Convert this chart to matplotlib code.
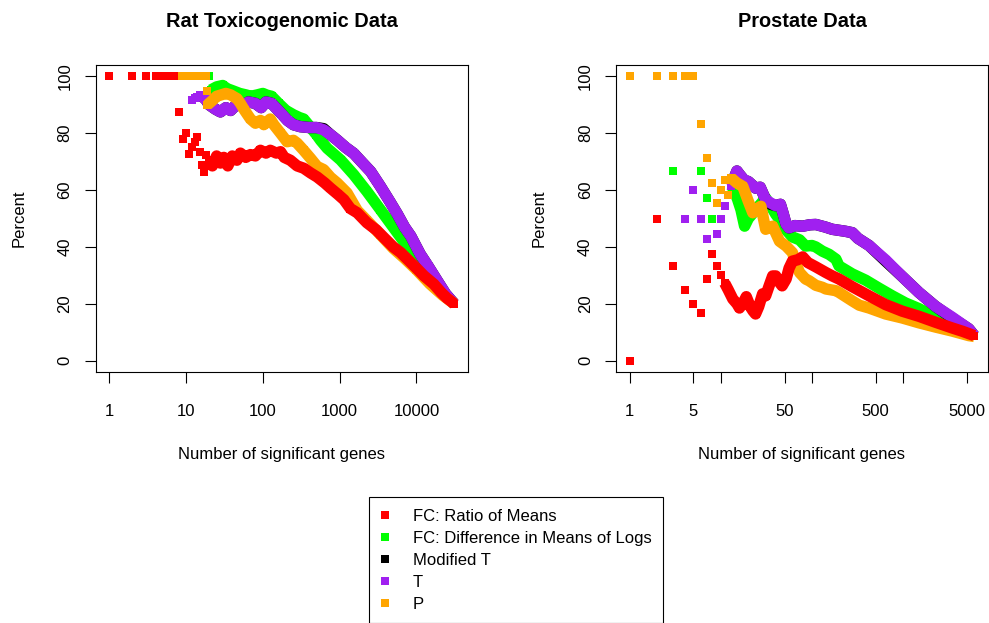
import matplotlib

matplotlib.use("Agg")

import matplotlib.pyplot as plt
import numpy as np
from matplotlib.lines import Line2D
from matplotlib.ticker import NullLocator

plt.rcParams["font.family"] = ["Liberation Sans", "DejaVu Sans"]

# ---------------- Rat toxicogenomic data (31099 probe sets) ----------------
rat_n_max = 31099

# FC: ratio of means
rat_rom_pts_n = [1, 2, 3, 4, 5, 6, 7, 8, 9, 10, 11, 12, 13, 14, 15, 16, 17, 18, 19]
rat_rom_pts_pct = [100, 100, 100, 100, 100, 100, 100, 87.5, 77.8, 80.0, 72.7, 75.0,
                   76.9, 78.6, 73.3, 68.8, 66.5, 72.2, 68.4]
rat_rom_band_n = [20, 22, 25, 28, 31, 35, 40, 46, 51, 60, 69, 80, 93, 110, 125, 150,
                  170, 190, 228, 280, 340, 420, 510, 640, 760, 950, 1140, 1380, 1700,
                  2270, 3000, 3800, 5000, 6250, 8460, 10300, 12600, 16900, 21000,
                  25000, 31099]
rat_rom_band_pct = [70.5, 68.5, 72.0, 69.5, 71.5, 68.5, 72.0, 70.5, 73.0, 71.5, 72.5,
                    72.0, 74.0, 73.0, 74.0, 73.0, 73.5, 71.5, 70.5, 68.5, 67.7, 66.0,
                    64.6, 62.5, 60.7, 58.5, 56.6, 53.5, 52.0, 48.5, 46.0, 43.2, 40.0,
                    38.0, 34.5, 32.2, 29.8, 26.9, 24.0, 22.0, 20.0]

# FC: difference in means of logs
rat_dml_pts_n = list(range(1, 21))
rat_dml_pts_pct = [100] * 20
rat_dml_band_n = [21, 25, 30, 34, 40, 50, 60, 70, 85, 100, 113, 130, 160, 200, 250,
                  300, 340, 420, 500, 565, 690, 1030, 1530, 2270, 3400, 5070, 7570,
                  10700, 12600, 18800, 31099]
rat_dml_band_pct = [95.2, 96.3, 96.8, 95.7, 95.0, 94.0, 93.5, 93.0, 93.5, 94.0, 93.4,
                    93.0, 90.5, 88.0, 86.5, 85.5, 85.0, 82.0, 79.5, 77.5, 74.7, 70.6,
                    65.4, 59.5, 53.1, 46.7, 40.3, 34.5, 31.0, 25.5, 20.0]

# Modified T
rat_mt_pts_n = list(range(1, 16))
rat_mt_pts_pct = [100] * 11 + [91.7, 92.3, 92.9, 93.3]
rat_mt_band_n = [16, 18, 20, 24, 28, 33, 38, 45, 55, 65, 80, 95, 110, 130, 153, 180,
                 210, 250, 308, 400, 500, 620, 760, 930, 1200, 1530, 2000, 2540, 3400,
                 4500, 5670, 7000, 8460, 11200, 14000, 18800, 24000, 31099]
rat_mt_band_pct = [93.0, 92.0, 90.0, 88.5, 87.5, 89.0, 88.0, 90.0, 89.5, 91.0, 90.5,
                   89.0, 91.0, 90.5, 88.5, 86.5, 84.5, 83.0, 82.3, 82.0, 82.0, 81.6,
                   79.5, 77.6, 75.0, 72.9, 69.5, 66.5, 61.3, 56.0, 51.5, 47.0, 43.8,
                   37.5, 33.5, 28.0, 23.5, 20.0]

# T
rat_t_pts_n = list(range(1, 16))
rat_t_pts_pct = [100] * 11 + [91.7, 92.3, 92.9, 93.3]
rat_t_band_n = [16, 18, 20, 24, 28, 33, 38, 45, 55, 65, 80, 95, 110, 130, 153, 180,
                210, 250, 308, 400, 500, 620, 760, 930, 1200, 1530, 2000, 2540, 3400,
                4500, 5670, 7000, 8460, 11200, 14000, 18800, 24000, 31099]
rat_t_band_pct = [93.0, 92.0, 90.0, 88.5, 87.5, 89.0, 88.0, 90.0, 89.5, 91.0, 90.5,
                  89.0, 91.0, 90.5, 88.5, 86.5, 84.5, 83.0, 82.3, 82.0, 82.0, 81.2,
                  79.5, 77.6, 75.0, 72.9, 69.5, 66.5, 61.3, 56.0, 51.5, 47.0, 43.8,
                  37.5, 33.5, 28.0, 23.5, 20.0]

# P
rat_p_pts_n = list(range(1, 20))
rat_p_pts_pct = [100] * 18 + [94.7]
rat_p_band_n = [19, 22, 25, 28, 33, 38, 42, 46, 51, 58, 69, 80, 93, 103, 125, 139, 170,
                207, 250, 280, 340, 417, 510, 620, 760, 930, 1250, 1700, 2270, 3400,
                5000, 7000, 10000, 15000, 22000, 31099]
rat_p_band_pct = [90.0, 91.5, 93.0, 93.4, 94.0, 93.5, 92.8, 92.2, 90.5, 88.0, 85.0,
                  83.5, 84.5, 83.0, 85.0, 83.0, 80.0, 77.0, 77.5, 76.5, 74.0, 71.2,
                  68.3, 67.2, 64.5, 62.5, 59.0, 52.8, 49.3, 44.3, 39.5, 36.0, 32.0,
                  27.0, 23.0, 20.0]

# ---------------- Prostate data (6033 genes) ----------------
pro_n_max = 6033

pro_rom_pts_n = [1, 2, 3, 4, 5, 6, 7, 8, 9, 10]
pro_rom_pts_pct = [0.0, 50.0, 33.3, 25.0, 20.0, 16.7, 28.6, 37.5, 33.3, 30.0]
pro_rom_band_n = [11, 12, 13.5, 15, 16, 18, 19, 21, 22.5, 24, 26, 28.7, 31, 34, 37, 40,
                  44, 47, 52, 56, 61, 70, 79, 90, 110, 142, 167, 198, 277, 423, 643,
                  977, 1490, 2267, 3445, 4500, 6033]
pro_rom_band_pct = [27.3, 25.0, 21.7, 20.0, 18.5, 21.0, 22.5, 19.0, 17.5, 16.4, 19.0,
                    23.5, 22.8, 26.5, 29.8, 29.8, 27.5, 26.3, 28.7, 32.5, 35.0, 35.5,
                    36.5, 34.5, 33.0, 31.0, 29.8, 28.7, 26.0, 22.8, 19.7, 17.4, 15.6,
                    13.5, 11.5, 10.3, 8.8]

pro_dml_pts_n = [1, 2, 3, 4, 5, 6, 7, 8, 9, 10, 11, 12]
pro_dml_pts_pct = [100, 100, 66.7, 50.0, 60.0, 66.7, 57.1, 50.0, 55.6, 60.0, 63.6, 58.3]
pro_dml_band_n = [13, 14, 15.3, 16.6, 18.2, 20, 24, 28, 31, 36, 40, 44, 52, 61, 73, 85,
                  100, 110, 130, 154, 183, 198, 277, 388, 543, 760, 1060, 1490, 2000,
                  3000, 4500, 6033]
pro_dml_band_pct = [61.5, 60.0, 56.6, 53.1, 47.3, 50.0, 53.0, 55.5, 57.2, 54.0, 51.5,
                    49.7, 46.0, 43.5, 42.5, 40.3, 40.5, 40.0, 38.5, 37.4, 35.7, 33.3,
                    30.5, 28.3, 25.5, 22.8, 20.3, 18.3, 16.2, 13.0, 10.5, 8.8]

pro_mt_pts_n = [1, 2, 3, 4, 5, 6, 7, 8, 9, 10, 11]
pro_mt_pts_pct = [100, 50.0, 33.3, 50.0, 60.0, 50.0, 42.9, 37.5, 44.4, 50.0, 54.5]
pro_mt_band_n = [13, 14, 15, 16, 18, 20, 24, 27, 31, 35, 40, 45, 48, 52, 56, 65, 79, 95,
                 110, 140, 167, 233, 277, 320, 423, 643, 977, 1490, 2267, 3445, 5250,
                 6033]
pro_mt_band_pct = [61.5, 64.3, 66.7, 65.5, 63.5, 63.0, 60.7, 61.0, 56.6, 55.0, 54.5,
                   55.0, 52.0, 48.0, 46.7, 47.5, 47.3, 47.8, 47.9, 47.0, 46.2, 45.5,
                   45.0, 43.0, 40.5, 35.0, 29.6, 24.0, 19.1, 15.0, 11.2, 8.8]

pro_t_pts_n = [1, 2, 3, 4, 5, 6, 7, 8, 9, 10, 11]
pro_t_pts_pct = [100, 50.0, 33.3, 50.0, 60.0, 50.0, 42.9, 37.5, 44.4, 50.0, 54.5]
pro_t_band_n = [13, 14, 15, 16, 18, 20, 24, 27, 31, 35, 40, 45, 48, 52, 56, 65, 79, 95,
                110, 140, 167, 233, 277, 320, 423, 643, 977, 1490, 2267, 3445, 5250,
                6033]
pro_t_band_pct = [61.5, 64.3, 66.7, 65.5, 63.5, 63.0, 60.7, 61.0, 56.6, 55.5, 54.5,
                  55.0, 52.0, 48.0, 46.7, 47.5, 47.3, 47.8, 47.9, 47.0, 46.2, 45.5,
                  45.0, 43.0, 40.5, 35.4, 29.6, 24.0, 19.1, 15.3, 11.2, 8.8]

pro_p_pts_n = [1, 2, 3, 4, 5, 6, 7, 8, 9, 10, 11, 12]
pro_p_pts_pct = [100, 100, 100, 100, 100, 83.3, 71.4, 62.5, 55.6, 60.0, 63.6, 58.3]
pro_p_band_n = [13, 15, 17.4, 19.7, 22.4, 25, 27.5, 31, 37, 44, 52, 61, 67, 73, 85, 93,
                110, 130, 142, 183, 198, 277, 330, 423, 643, 977, 1490, 2267, 3445,
                5250, 6033]
pro_p_band_pct = [64.2, 62.5, 61.3, 56.6, 52.0, 53.5, 54.3, 46.2, 47.3, 42.0, 40.3,
                  38.0, 34.0, 31.0, 28.7, 28.1, 26.5, 25.8, 25.2, 24.6, 24.0, 21.0,
                  19.5, 18.5, 16.4, 15.0, 13.3, 11.8, 10.4, 8.8, 8.5]

# ---------------- labels / ticks ----------------
method_labels = ["FC: Ratio of Means", "FC: Difference in Means of Logs",
                 "Modified T", "T", "P"]
method_colors = ["#FF0000", "#00FF00", "#000000", "#A020F0", "#FFA500"]

rat_xticks = [1, 10, 100, 1000, 10000]
rat_xticklabels = ["1", "10", "100", "1000", "10000"]
pro_xticks = [1, 5, 10, 50, 100, 500, 1000, 5000]
pro_xticklabels = ["1", "5", "", "50", "", "500", "", "5000"]
pct_ticks = [0, 20, 40, 60, 80, 100]
pct_ticklabels = ["0", "20", "40", "60", "80", "100"]

MS = 5.8   # square marker, points
LW = 8.2   # width of the dense run of squares


def draw_series(ax, pts_n, pts_pct, band_n, band_pct, color):
    ax.plot(pts_n, pts_pct, ls="none", marker="s", ms=MS, mew=0, color=color)
    ax.plot(band_n, band_pct, ls="-", lw=LW, marker="s", ms=MS, mew=0, color=color,
            solid_joinstyle="round", solid_capstyle="butt")


def setup_axes(ax, title, n_max, xticks, xticklabels):
    ax.set_xscale("log")
    span = 0.04 * np.log10(n_max)
    ax.set_xlim(10 ** -span, n_max * 10 ** span)
    ax.set_ylim(-4, 104)
    ax.set_xticks(xticks)
    ax.set_xticklabels(xticklabels)
    ax.xaxis.set_minor_locator(NullLocator())
    ax.set_yticks(pct_ticks)
    ax.set_yticklabels(pct_ticklabels, rotation=90, va="center")
    ax.tick_params(axis="both", direction="out", length=8, width=0.8, labelsize=12,
                   color="black")
    ax.tick_params(axis="x", pad=15)
    ax.tick_params(axis="y", pad=8.5)
    for spine in ax.spines.values():
        spine.set_linewidth(0.8)
        spine.set_color("black")
    ax.set_title(title, fontsize=14.4, fontweight="bold", pad=27.5)
    ax.set_xlabel("Number of significant genes", fontsize=12, labelpad=20)
    ax.set_ylabel("Percent", fontsize=12, labelpad=22.5)


fig = plt.figure(figsize=(9.89, 6.23), dpi=100)
ax_rat = fig.add_axes([95.5 / 989, 1 - 372 / 623, 372.5 / 989, 307 / 623])
ax_pro = fig.add_axes([616 / 989, 1 - 372 / 623, 372 / 989, 307 / 623])

red, green, black, purple, orange = method_colors

# drawing order: green, black, purple, orange, red on top
draw_series(ax_rat, rat_dml_pts_n, rat_dml_pts_pct, rat_dml_band_n, rat_dml_band_pct, green)
draw_series(ax_rat, rat_mt_pts_n, rat_mt_pts_pct, rat_mt_band_n, rat_mt_band_pct, black)
draw_series(ax_rat, rat_t_pts_n, rat_t_pts_pct, rat_t_band_n, rat_t_band_pct, purple)
draw_series(ax_rat, rat_p_pts_n, rat_p_pts_pct, rat_p_band_n, rat_p_band_pct, orange)
draw_series(ax_rat, rat_rom_pts_n, rat_rom_pts_pct, rat_rom_band_n, rat_rom_band_pct, red)

draw_series(ax_pro, pro_dml_pts_n, pro_dml_pts_pct, pro_dml_band_n, pro_dml_band_pct, green)
draw_series(ax_pro, pro_mt_pts_n, pro_mt_pts_pct, pro_mt_band_n, pro_mt_band_pct, black)
draw_series(ax_pro, pro_t_pts_n, pro_t_pts_pct, pro_t_band_n, pro_t_band_pct, purple)
draw_series(ax_pro, pro_p_pts_n, pro_p_pts_pct, pro_p_band_n, pro_p_band_pct, orange)
draw_series(ax_pro, pro_rom_pts_n, pro_rom_pts_pct, pro_rom_band_n, pro_rom_band_pct, red)

setup_axes(ax_rat, "Rat Toxicogenomic Data", rat_n_max, rat_xticks, rat_xticklabels)
setup_axes(ax_pro, "Prostate Data", pro_n_max, pro_xticks, pro_xticklabels)

handles = [Line2D([], [], ls="none", marker="s", ms=MS, mew=0, color=c)
           for c in method_colors]
leg = fig.legend(handles, method_labels, loc="upper left",
                 bbox_to_anchor=(369 / 989, 1 - 497 / 623),
                 bbox_transform=fig.transFigure, borderaxespad=0, fontsize=12,
                 frameon=True, fancybox=False, framealpha=1, edgecolor="black",
                 handlelength=0.52, handletextpad=1.42, borderpad=0.7,
                 labelspacing=0.42)
leg.get_frame().set_linewidth(0.8)

fig.savefig("out.png", dpi=100)
plt.close(fig)
